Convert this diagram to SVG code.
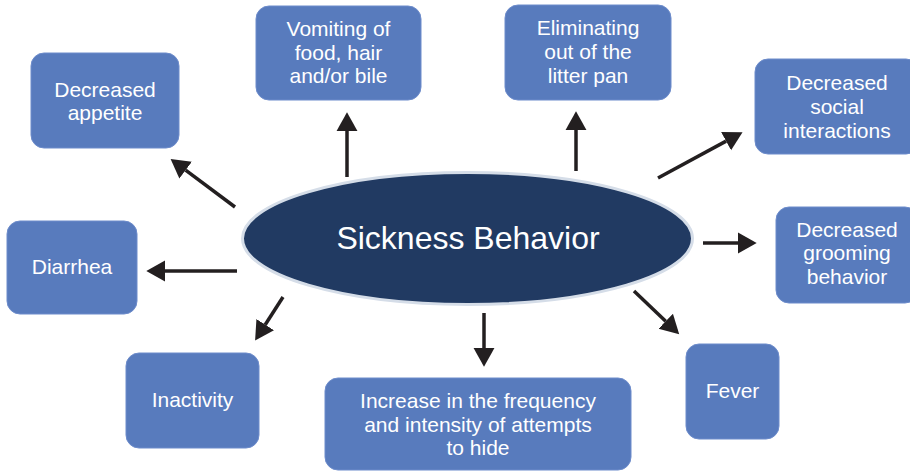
<svg xmlns="http://www.w3.org/2000/svg" width="910" height="471" viewBox="0 0 910 471">
<style>
.box{fill:#587bbd;stroke:#6d8ccb;stroke-width:1}
.t{font-family:"Liberation Sans",Arial,sans-serif;font-size:21px;fill:#ffffff;text-anchor:middle}
.c{stroke:#231f20;stroke-width:3.5;fill:none;marker-end:url(#ah)}
</style>
<defs>
<marker id="ah" markerUnits="userSpaceOnUse" markerWidth="20" markerHeight="22" viewBox="0 -10 18 20" refX="0" refY="0" orient="auto">
<path d="M0,-9.5 L17,0 L0,9.5 z" fill="#231f20"/>
</marker>
</defs>
<rect width="910" height="471" fill="#ffffff"/>
<g id="connectors">
<line class="c" x1="235" y1="207" x2="185.6" y2="170.2"/>
<line class="c" x1="347" y1="177" x2="347" y2="131"/>
<line class="c" x1="576" y1="171" x2="576" y2="130"/>
<line class="c" x1="658" y1="178" x2="726.1" y2="141.1"/>
<line class="c" x1="703" y1="243" x2="738" y2="243"/>
<line class="c" x1="634" y1="291" x2="665.7" y2="321.3"/>
<line class="c" x1="484" y1="313" x2="484" y2="348"/>
<line class="c" x1="283" y1="297" x2="265.2" y2="324.7"/>
<line class="c" x1="237" y1="271" x2="165" y2="271"/>
</g>
<g id="center">
<ellipse cx="467.5" cy="238.5" rx="225" ry="66" fill="#213a62" stroke="#d5dde8" stroke-width="3"/>
<text x="468" y="249" font-family="Liberation Sans,Arial,sans-serif" font-size="32" fill="#ffffff" text-anchor="middle">Sickness Behavior</text>
</g>
<g id="appetite">
<rect class="box" x="31" y="53" width="148" height="95" rx="13"/>
<text class="t" x="105" y="97">Decreased</text>
<text class="t" x="105" y="120">appetite</text>
</g>
<g id="vomiting">
<rect class="box" x="256" y="6" width="165" height="94" rx="13"/>
<text class="t" x="338.5" y="36">Vomiting of</text>
<text class="t" x="338.5" y="60">food, hair</text>
<text class="t" x="338.5" y="83">and/or bile</text>
</g>
<g id="eliminating">
<rect class="box" x="505" y="5" width="166" height="95" rx="13"/>
<text class="t" x="588" y="35">Eliminating</text>
<text class="t" x="588" y="59">out of the</text>
<text class="t" x="588" y="83">litter pan</text>
</g>
<g id="social">
<rect class="box" x="755" y="59" width="164" height="95" rx="13"/>
<text class="t" x="837" y="90">Decreased</text>
<text class="t" x="837" y="114">social</text>
<text class="t" x="837" y="138">interactions</text>
</g>
<g id="grooming">
<rect class="box" x="776" y="207" width="142" height="96" rx="13"/>
<text class="t" x="847" y="237">Decreased</text>
<text class="t" x="847" y="260">grooming</text>
<text class="t" x="847" y="284">behavior</text>
</g>
<g id="diarrhea">
<rect class="box" x="7" y="221" width="130" height="93" rx="13"/>
<text class="t" x="72" y="274">Diarrhea</text>
</g>
<g id="inactivity">
<rect class="box" x="126" y="353" width="133" height="95" rx="13"/>
<text class="t" x="192.5" y="407">Inactivity</text>
</g>
<g id="hide">
<rect class="box" x="325" y="378" width="306" height="92" rx="13"/>
<text class="t" x="478" y="408">Increase in the frequency</text>
<text class="t" x="478" y="432">and intensity of attempts</text>
<text class="t" x="478" y="455">to hide</text>
</g>
<g id="fever">
<rect class="box" x="686" y="344" width="93" height="95" rx="13"/>
<text class="t" x="732.5" y="398">Fever</text>
</g>
</svg>
